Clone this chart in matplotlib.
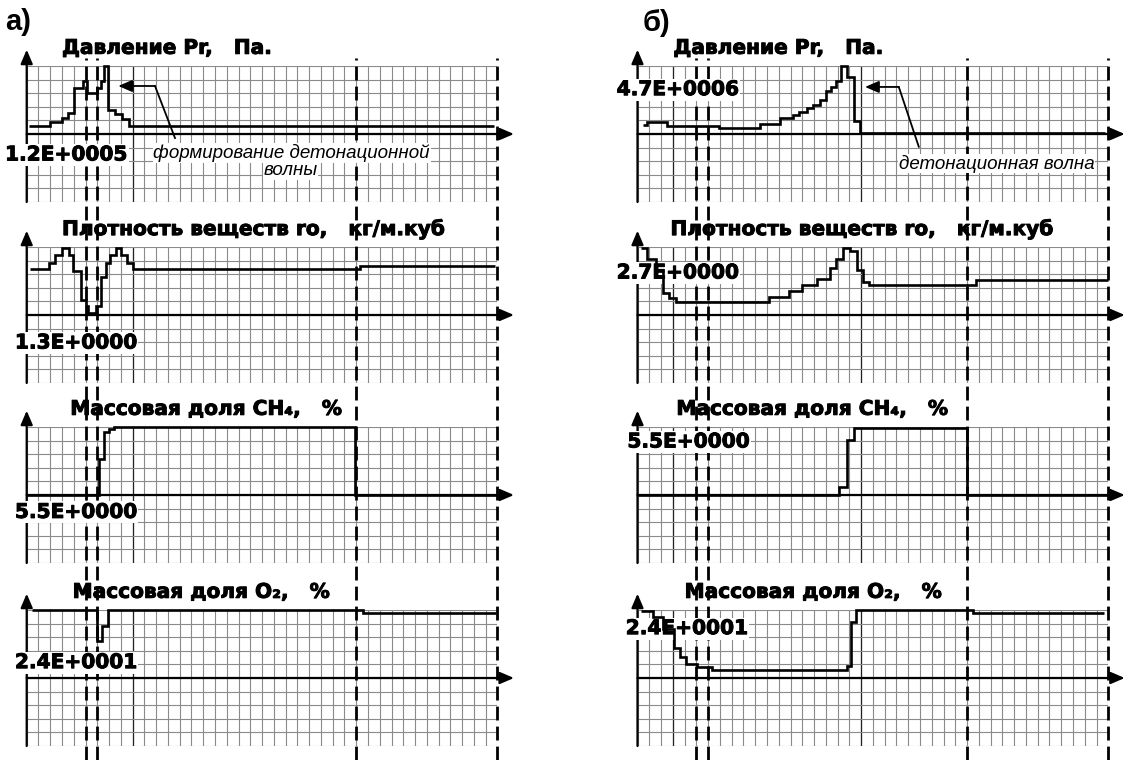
import matplotlib.pyplot as plt
import matplotlib.patheffects as pe
import numpy as np

# ---- data in grid-cell units (x: 0..40, y: -5..5) ----
a_pr_x = [0.2, 2.0, 3.0, 3.5, 4.05, 4.75, 5.15, 5.95, 6.3, 6.55, 6.9, 7.5, 8.1, 8.65, 39.7]
a_pr_y = [0.62, 0.9, 1.2, 1.55, 3.4, 3.9, 3.0, 3.4, 3.9, 5.0, 1.8, 1.45, 1.1, 0.62]

a_ro_x = [0.28, 1.9, 2.38, 3.03, 3.59, 3.96, 4.58, 5.0, 5.2, 5.86, 6.28, 6.75, 7.1, 7.55,
          8.03, 8.55, 9.05, 28.3, 39.8]
a_ro_y = [3.36, 3.85, 4.41, 4.9, 4.41, 3.26, 1.1, 0.66, 0.12, 0.66, 2.82, 3.85, 4.41, 4.9,
          4.41, 3.85, 3.36, 3.6]

a_ch4_x = [0, 6.14, 6.56, 6.99, 7.41, 27.92, 40]
a_ch4_y = [0, 2.66, 4.63, 4.88, 5.0, 0]

a_o2_x = [0.45, 6.0, 6.42, 6.9, 28.57, 39.9]
a_o2_y = [4.97, 2.7, 3.84, 4.97, 4.75]

b_pr_x = [0.43, 0.83, 2.5, 6.94, 10.4, 12.08, 13.2, 13.76, 14.43, 14.9, 15.5, 16.0, 16.4,
          16.9, 17.25, 17.8, 18.4, 18.87, 39.7]
b_pr_y = [0.67, 0.91, 0.59, 0.47, 0.74, 1.16, 1.41, 1.65, 1.9, 2.15, 2.52, 3.14, 3.46,
          3.93, 4.99, 4.2, 0.99, 0.1]

b_ro_x = [0.31, 0.83, 1.53, 2.2, 2.66, 3.27, 11.13, 12.84, 13.98, 15.29, 16.33, 16.88,
          17.49, 18.04, 18.65, 19.17, 19.63, 28.8, 39.97]
b_ro_y = [4.94, 4.12, 3.33, 1.6, 1.23, 0.99, 1.31, 1.73, 2.22, 2.67, 3.46, 4.12,
          4.89, 4.69, 3.33, 2.4, 2.17, 2.54]

b_ch4_x = [0, 17.13, 17.8, 18.41, 27.98, 40]
b_ch4_y = [0, 0.57, 4.02, 4.89, 0]

b_o2_x = [0.31, 1.35, 2.2, 3.06, 3.58, 4.1, 5.02, 6.33, 17.8, 18.1, 18.56, 28.5, 39.66]
b_o2_y = [4.91, 4.49, 3.63, 2.22, 1.53, 1.04, 0.79, 0.59, 0.91, 4.12, 4.99, 4.81]

titles = ['Давление Pr,   Па.', 'Плотность веществ ro,   кг/м.куб',
          'Массовая доля CH₄,   %', 'Массовая доля O₂,   %']
a_scale = ['1.2E+0005', '1.3E+0000', '5.5E+0000', '2.4E+0001']
b_scale = ['4.7E+0006', '2.7E+0000', '5.5E+0000', '2.4E+0001']

dash_x = [5, 6, 28, 40]

# ---- layout (pixels) ----
W, H = 1125, 760
x0 = {'a': 26.7, 'b': 637.5}
cell_w = 11.77
row_h = 13.6
row_tops = [66, 247, 427, 610]

fig = plt.figure(figsize=(W / 100, H / 100), dpi=100)


def to_fig(p, r, cx, cy):
    px = x0[p] + cx * cell_w
    py = row_tops[r] + (5 - cy) * row_h
    return px / W, 1 - py / H


def rect(p, r):
    return [x0[p] / W, 1 - (row_tops[r] + 10 * row_h) / H, 40 * cell_w / W, 10 * row_h / H]


arr = dict(arrowstyle='-|>,head_length=0.7,head_width=0.3', color='k', lw=1.6,
           mutation_scale=12, shrinkA=0, shrinkB=0)
heavy = [pe.withStroke(linewidth=0.7, foreground='k')]

panels = {
    'a': [(a_pr_x, a_pr_y), (a_ro_x, a_ro_y), (a_ch4_x, a_ch4_y), (a_o2_x, a_o2_y)],
    'b': [(b_pr_x, b_pr_y), (b_ro_x, b_ro_y), (b_ch4_x, b_ch4_y), (b_o2_x, b_o2_y)],
}
dark_cols = {'a': [9], 'b': [3, 19]}
title_x = {'a': [3.0, 3.0, 3.7, 3.9], 'b': [3.05, 2.8, 3.3, 4.0]}
scale_pos = {'a': [(-1.84, -1.54), (-1.0, -2.06), (-1.0, -1.28), (-1.0, 1.13)],
             'b': [(-1.77, 3.26), (-1.77, 3.09), (-0.86, 3.9), (-1.0, 3.63)]}
scale_txt = {'a': a_scale, 'b': b_scale}

curve_axes = {}
for p in ['a', 'b']:
    for r in range(4):
        # grid + axes arrows (bottom layer)
        g = fig.add_axes(rect(p, r), zorder=0)
        g.set_xlim(0, 40)
        g.set_ylim(-5, 5)
        g.axis('off')
        g.vlines(np.arange(0, 41), -5, 5, colors='#8a8a8a', lw=0.8)
        g.vlines(dark_cols[p], -5, 5, colors='#222222', lw=0.9)
        g.hlines(np.arange(-5, 6), 0, 40, colors='#8a8a8a', lw=0.8)
        g.annotate('', xy=(41.4, 0), xytext=(0, 0), arrowprops=arr, annotation_clip=False)
        g.annotate('', xy=(0, 6.2), xytext=(0, -5), arrowprops=arr, annotation_clip=False)

        # curve (top layer)
        c = fig.add_axes(rect(p, r), zorder=3)
        c.set_xlim(0, 40)
        c.set_ylim(-5, 5)
        c.axis('off')
        xs, ys = panels[p][r]
        c.stairs(ys, xs, baseline=None, color='k', lw=1.9, clip_on=False)
        curve_axes[(p, r)] = c

        tx, ty = to_fig(p, r, title_x[p][r], 6.3)
        fig.text(tx, ty, titles[r], ha='left', va='center', fontsize=14.5,
                 fontweight='bold', family='DejaVu Sans', zorder=2, path_effects=heavy)
        sx, sy = to_fig(p, r, *scale_pos[p][r])
        fig.text(sx, sy, scale_txt[p][r], ha='left', va='center', fontsize=14.5,
                 fontweight='bold', family='DejaVu Sans', zorder=2, path_effects=heavy,
                 bbox=dict(fc='white', ec='none', pad=1))

    # dashed verticals over the whole panel
    d = fig.add_axes([x0[p] / W, 0, 40 * cell_w / W, (H - 58) / H], zorder=1)
    d.set_xlim(0, 40)
    d.set_ylim(0, 1)
    d.axis('off')
    d.vlines(dash_x, 0, 1, colors='k', lw=2.0, linestyles=(0, (5, 2.2)), clip_on=False)

# panel letters
fig.text(5 / W, 1 - 22 / H, 'а)', fontsize=21, fontweight='bold',
         family='Liberation Sans', va='center', ha='left')
fig.text(643 / W, 1 - 23 / H, 'б)', fontsize=21, fontweight='bold',
         family='Liberation Sans', va='center', ha='left')

# annotations
ita = ['Liberation Sans Narrow', 'Liberation Sans']
ca = curve_axes[('a', 0)]
ca.plot([10.9, 12.6], [3.53, -0.3], color='k', lw=1.3, clip_on=False)
ca.annotate('', xy=(7.78, 3.53), xytext=(10.9, 3.53), arrowprops=dict(arr, lw=1.3),
            annotation_clip=False)
tx, ty = to_fig('a', 0, 22.5, -1.4)
fig.text(tx, ty, 'формирование детонационной', ha='center', va='center', fontsize=13.5,
         style='italic', family=ita, zorder=2, bbox=dict(fc='white', ec='none', pad=0.5))
tx, ty = to_fig('a', 0, 22.4, -2.72)
fig.text(tx, ty, 'волны', ha='center', va='center', fontsize=13.5,
         style='italic', family=ita, zorder=2, bbox=dict(fc='white', ec='none', pad=0.5))

cb = curve_axes[('b', 0)]
cb.plot([22.2, 23.9], [3.46, -0.94], color='k', lw=1.3, clip_on=False)
cb.annotate('', xy=(19.33, 3.46), xytext=(22.2, 3.46), arrowprops=dict(arr, lw=1.3),
            annotation_clip=False)
tx, ty = to_fig('b', 0, 30.5, -2.17)
fig.text(tx, ty, 'детонационная волна', ha='center', va='center', fontsize=13.5,
         style='italic', family=ita, zorder=2, bbox=dict(fc='white', ec='none', pad=0.5))

fig.savefig('out.png', dpi=100, facecolor='white')
